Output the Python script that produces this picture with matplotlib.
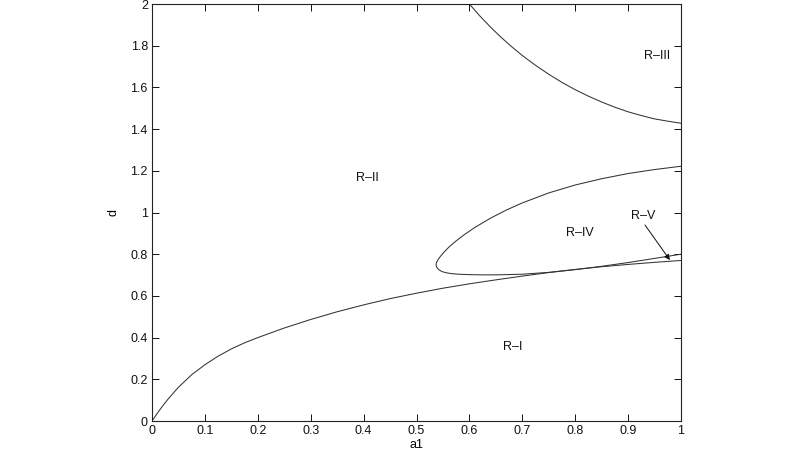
import matplotlib
matplotlib.use("Agg")
import matplotlib.pyplot as plt
from matplotlib.ticker import FormatStrFormatter, MultipleLocator

plt.rcParams['font.family'] = ['Liberation Sans', 'DejaVu Sans']

# Curve from origin (boundary R-I / R-II)
low_a = [0.0, 0.01, 0.02, 0.03, 0.05, 0.075, 0.1, 0.125, 0.15, 0.175, 0.2, 0.25, 0.3, 0.35,
         0.4, 0.45, 0.5, 0.55, 0.6, 0.65, 0.7, 0.75, 0.8, 0.85, 0.9, 0.95, 1.0]
low_d = [0.0, 0.037, 0.072, 0.104, 0.162, 0.222, 0.270, 0.311, 0.346, 0.375, 0.400, 0.446, 0.487, 0.524,
         0.557, 0.587, 0.613, 0.637, 0.658, 0.677, 0.695, 0.712, 0.727, 0.740, 0.751, 0.761, 0.770]

# Upper curve (boundary R-II / R-III)
top_a = [0.6, 0.62, 0.64, 0.66, 0.68, 0.7, 0.725, 0.75, 0.775, 0.8, 0.825, 0.85, 0.875, 0.9,
         0.925, 0.95, 0.975, 1.0]
top_d = [2.0, 1.942, 1.889, 1.840, 1.795, 1.753, 1.706, 1.663, 1.624, 1.589, 1.558, 1.530, 1.505, 1.483,
         1.465, 1.449, 1.438, 1.428]

# Loop (boundary of R-IV): upper branch from a1=1 to the nose, then lower branch back to a1=1
loop_a = [1.0, 0.95, 0.9, 0.85, 0.8, 0.75, 0.7, 0.67, 0.64, 0.61, 0.59, 0.575, 0.562, 0.552, 0.545,
          0.540, 0.5375, 0.537, 0.5385, 0.542, 0.548, 0.556, 0.566, 0.58, 0.6, 0.625, 0.65, 0.7,
          0.75, 0.8, 0.85, 0.9, 0.95, 1.0]
loop_d = [1.222, 1.206, 1.187, 1.162, 1.132, 1.094, 1.046, 1.012, 0.973, 0.928, 0.893, 0.864, 0.836, 0.81, 0.789,
          0.771, 0.758, 0.748, 0.736, 0.726, 0.717, 0.711, 0.707, 0.704, 0.702, 0.701, 0.701, 0.704,
          0.713, 0.726, 0.742, 0.760, 0.780, 0.800]

region_labels = ['R–I', 'R–II', 'R–III', 'R–IV', 'R–V']
region_a = [0.682, 0.408, 0.955, 0.809, 0.928]
region_d = [0.355, 1.166, 1.751, 0.902, 0.983]

arrow_from = (0.932, 0.94)
arrow_to = (0.979, 0.772)

fig = plt.figure(figsize=(8, 4.5), dpi=100)
ax = fig.add_axes([0.19, 0.0644, 0.66125, 0.9267])

lc = '#333333'
lw = 0.75
ax.plot(low_a, low_d, color=lc, lw=lw)
ax.plot(top_a, top_d, color=lc, lw=lw)
ax.plot(loop_a, loop_d, color=lc, lw=lw)

for t, a, d in zip(region_labels, region_a, region_d):
    ax.text(a, d, t, fontsize=9, ha='center', va='center', color='#111111')

ax.annotate('', xy=arrow_to, xytext=arrow_from,
            arrowprops=dict(arrowstyle='-|>', color='#111111', lw=0.7,
                            mutation_scale=8, shrinkA=0, shrinkB=0))

ax.set_xlim(0, 1)
ax.set_ylim(0, 2)
ax.xaxis.set_major_locator(MultipleLocator(0.1))
ax.yaxis.set_major_locator(MultipleLocator(0.2))
ax.xaxis.set_major_formatter(FormatStrFormatter('%g'))
ax.yaxis.set_major_formatter(FormatStrFormatter('%g'))
ax.tick_params(direction='in', length=5, width=0.7, top=True, right=True,
               labelsize=9, pad=3, colors='#111111')
for s in ax.spines.values():
    s.set_linewidth(0.8)
    s.set_color('#222222')
ax.set_xlabel('a1', fontsize=9, labelpad=1)
ax.set_ylabel('d', fontsize=9, labelpad=8)

fig.savefig('out.png', dpi=100)
